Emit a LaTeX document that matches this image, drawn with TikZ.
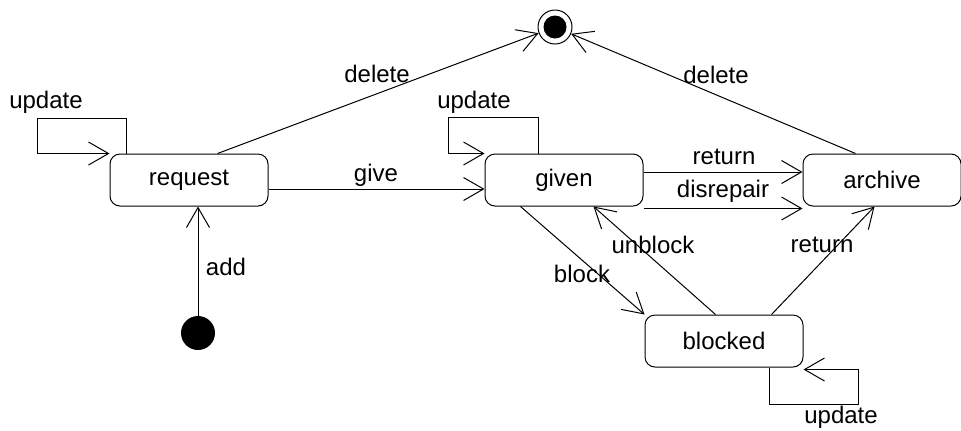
\documentclass[tikz,border=0pt]{standalone}
\usepackage{fontspec}
\setmainfont{Liberation Sans}
\usetikzlibrary{arrows.meta}

\tikzset{
  state/.style={draw, rounded corners=5pt, minimum width=79pt, minimum height=26pt,
    line width=0.5pt, font=\fontsize{12}{14}\selectfont},
  trans/.style={line width=0.5pt, -{Straight Barb[length=10pt, width=11.5pt]}},
  lbl/.style={font=\fontsize{12}{14}\selectfont, inner sep=1pt},
}

\begin{document}
\begin{tikzpicture}[x=0.5pt, y=-0.5pt]
            \useasboundingbox (0,0) rectangle (961,430);

            \node at (189,180) [state] (request) {request};
            \node at (564,180) [state] (given) {given};
            \node at (882,180) [state] (archive) {archive};
            \node at (724,341) [state] (blocked) {blocked};

            \node at (555,27) [circle, draw, line width=0.5pt, minimum size=17pt, inner sep=0pt] (final) {};
            \node at (final) [circle, fill=black, minimum size=11.5pt, inner sep=0pt] (finaldot) {};
            \node at (198,333) [circle, fill=black, minimum size=17pt, inner sep=0pt] (init) {};

            \draw[trans] (init) -- (init |- request.south);
            \draw[trans] ([xshift=54pt]request.north west) -- (final);
            \draw[trans] ([xshift=26.5pt]archive.north west) -- (final);
            \draw[trans] ([yshift=-4.5pt]request.east) -- ([yshift=-4.5pt]given.west);
            \draw[trans] ([yshift=4pt]given.east) -- ([yshift=4pt]archive.west);
            \draw[trans] ([yshift=-1pt]given.south east) -- ([yshift=-1pt]archive.south west);
            \draw[trans] ([xshift=18pt]given.south west) -- (blocked.north west);
            \draw[trans] ([xshift=35.5pt]blocked.north west) -- ([xshift=54.5pt]given.south west);
            \draw[trans] ([xshift=63.5pt]blocked.north west) -- ([xshift=36pt]archive.south west);

            % self loops
            \draw[trans] ([xshift=8.5pt]request.north west) -- ++(0,-35) -- ++(-89,0) -- ++(0,35) -- (request.north west);
            \draw[trans] ([xshift=27pt]given.north west) -- ++(0,-36) -- ++(-90,0) -- ++(0,36) -- (given.north west);
            \draw[trans] ([xshift=-17pt]blocked.south east) -- ++(0,37) -- ++(89,0) -- ++(0,-35) -- ([yshift=-1pt]blocked.south east);

            \node at (46,102) [lbl] (l-upd1) {update};
            \node at (474,102) [lbl] (l-upd2) {update};
            \node at (841,417) [lbl] (l-upd3) {update};
            \node at (377,74) [lbl] (l-del1) {delete};
            \node at (716,75) [lbl] (l-del2) {delete};
            \node at (376,175) [lbl] (l-give) {give};
            \node at (724,157) [lbl] (l-ret1) {return};
            \node at (723,191) [lbl] (l-disr) {disrepair};
            \node at (653,245) [lbl] (l-unbl) {unblock};
            \node at (582,274) [lbl] (l-block) {block};
            \node at (822,245) [lbl] (l-ret2) {return};
            \node at (226,267) [lbl] (l-add) {add};
        \end{tikzpicture}
\end{document}
